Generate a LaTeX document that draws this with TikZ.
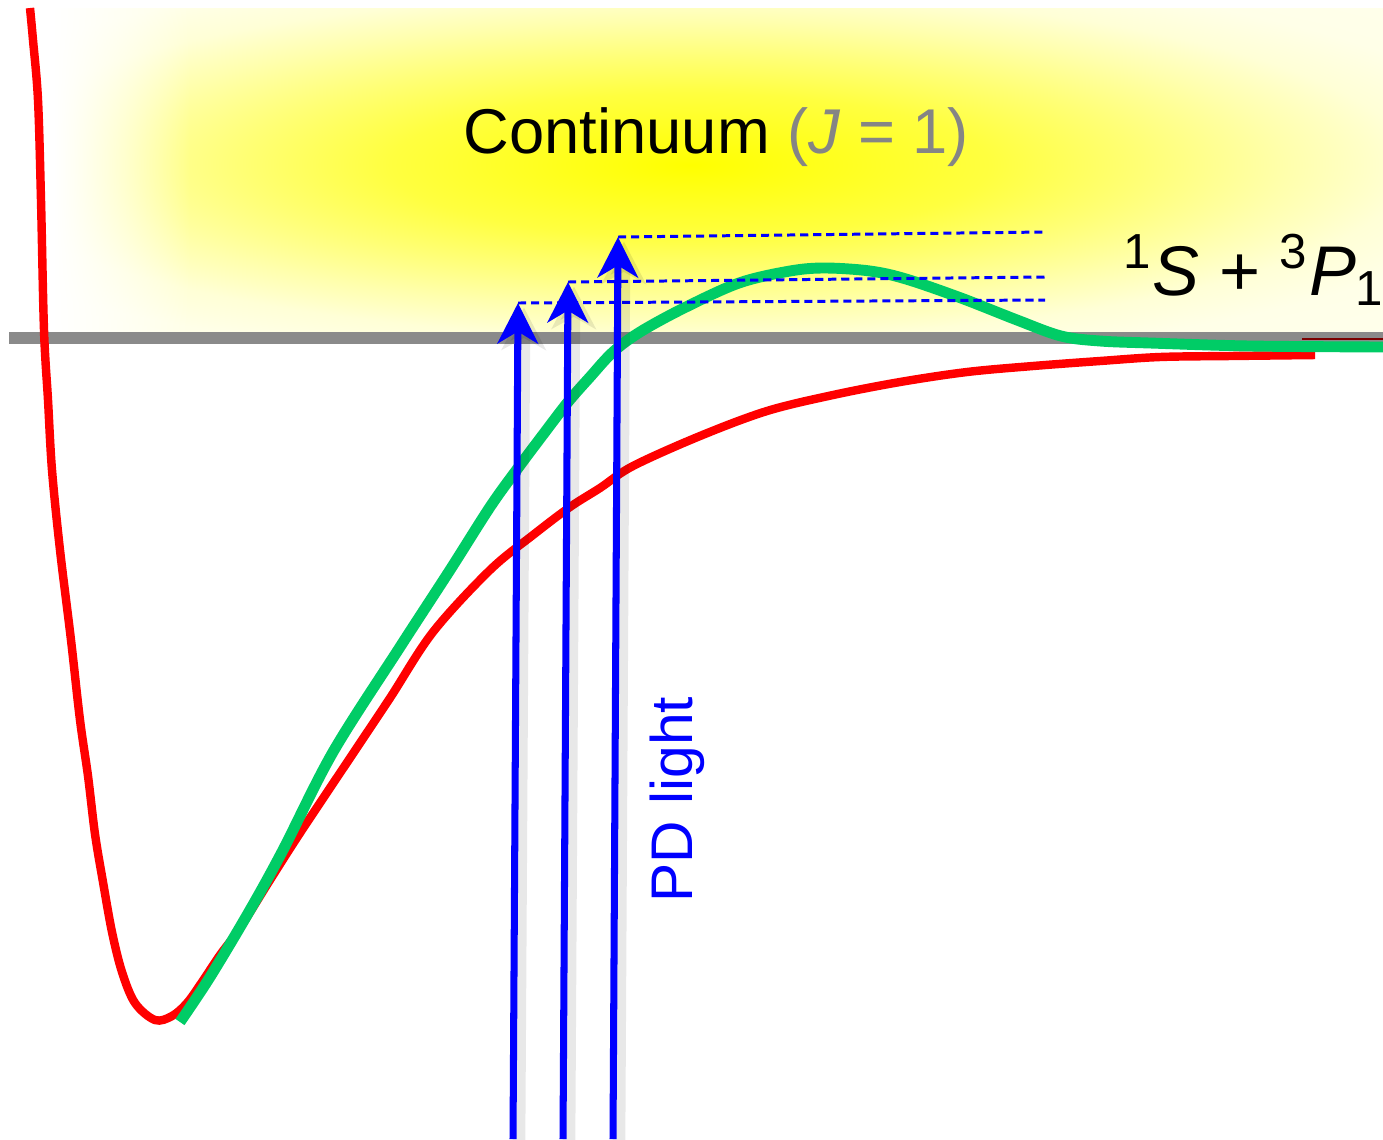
\documentclass[tikz,border=0pt]{standalone}
\usepackage{fontspec}
\setmainfont{Liberation Sans}
\usepackage{xcolor}
\usepackage{tikz}
\usetikzlibrary{arrows.meta,positioning,calc,fadings}
\definecolor{pdBlue}{HTML}{0000FF}
\definecolor{pdRed}{HTML}{FF0000}
\definecolor{pdDarkRed}{HTML}{7A0000}
\definecolor{pdGreen}{HTML}{00CC66}
\definecolor{pdGray}{HTML}{8A8A8A}
\definecolor{pdText}{HTML}{858585}
\pgfdeclareradialshading{contglow}{\pgfpoint{0bp}{0bp}}{%
  color(0bp)=(yellow); color(5bp)=(yellow!75); color(7.5bp)=(yellow!54);
  color(10bp)=(yellow!32); color(12bp)=(yellow!16); color(14bp)=(yellow!9);
  color(25bp)=(yellow!4); color(50bp)=(yellow!3)}
\tikzfading[name=glowedge, left color=transparent!0, right color=transparent!100]
\tikzset{
  potcurve/.style={draw=pdRed, line width=2.4pt, line join=round},
  wavecurve/.style={draw=pdGreen, line width=3.1pt, line join=round},
  threshold/.style={draw=pdGray, line width=3.4pt},
  pdbeam/.style={draw=pdBlue, line width=2pt,
        -{Stealth[length=11.5pt, width=11.5pt, inset=3.4pt]}},
  beamshade/.style={draw=black, opacity=0.09, line width=3.6pt,
        -{Stealth[length=12pt, width=12.5pt, inset=3.4pt]},
        transform canvas={xshift=1.7pt, yshift=-1.3pt}},
  level/.style={draw=pdBlue, line width=0.85pt, dash pattern=on 2.3pt off 1.4pt},
  lbl/.style={inner sep=0pt, text=black}
}

\begin{document}
\begin{tikzpicture}[x=0.01cm, y=-0.01cm]
\useasboundingbox (0,0) rectangle (1383,1139);

% continuum glow
\begin{scope}
\clip (55,8) rectangle (1383,336);
\shade[shading=contglow] (690,165) ellipse (1500 and 360);
\fill[white, path fading=glowedge] (55,0) rectangle (190,340);
\end{scope}

% dissociation threshold
\coordinate (thl) at (9,338);
\coordinate (thr) at (1383,338);
\draw[threshold] (thl) -- (thr);

% ground potential
\draw[potcurve] plot[smooth, tension=0.55] coordinates {
  (30,8) (33,40) (38,100) (41,200) (44,330) (48,400) (52,470) (60,550)
  (71,640) (80,720) (88,776) (95,834) (103,882) (112,932) (122,972)
  (135,1003) (155,1020) (172,1016) (187,1003) (202,982) (220,955)
  (240,928) (270,880) (300,833) (350,758) (390,698) (433,632) (490,570)
  (533,535) (570,507) (600,488) (633,466) (700,436) (767,411) (833,395)
  (900,382) (967,372) (1033,366) (1100,361) (1160,357) (1230,356) (1315,355)};
\coordinate (dr1) at (1302,339);
\coordinate (dr2) at (1383,339);

% scattering wave function
\draw[wavecurve] plot[smooth, tension=0.55] coordinates {
  (180,1022) (210,977) (250,910) (283,850) (333,752) (400,647) (450,570)
  (490,507) (518,468) (545,432) (568,402) (590,377) (613,352) (640,332)
  (684,308) (739,283) (790,271) (825,268) (870,271) (906,279) (961,298)
  (1017,320) (1061,336) (1100,341) (1150,343) (1250,346) (1383,347)};
\draw[draw=pdDarkRed, line width=0.7pt] (dr1) -- (dr2);

% PD light
\coordinate (b1) at (513,1139);  \coordinate (t1) at (518,303);
\coordinate (b2) at (563,1139);  \coordinate (t2) at (568,282);
\coordinate (b3) at (613,1139);  \coordinate (t3) at (618,237);
\coordinate (e1) at (1045,300);
\coordinate (e2) at (1045,277);
\coordinate (e3) at (1045,232);
\draw[level] (t1) -- (e1);
\draw[level] (t2) -- (e2);
\draw[level] (t3) -- (e3);
\foreach \i in {1,2,3} {
  \draw[beamshade] (b\i) -- (t\i);
  \draw[pdbeam] (b\i) -- (t\i);
}

% labels
\node[lbl, anchor=base west, font=\fontsize{18}{20}\selectfont] (cont) at (463,153)
  {Continuum \textcolor{pdText}{(\textit{J} = 1)}};
\node[lbl, anchor=base west, font=\fontsize{20}{22}\selectfont] (asym) at (1123,295)
  {\textsuperscript{1}\textit{S} + \textsuperscript{3}\textit{P}\textsubscript{1}};
\node[lbl, anchor=base west, rotate=90, text=pdBlue, font=\fontsize{16.7}{18}\selectfont]
  (pdl) at (692,903) {PD light};
\end{tikzpicture}
\end{document}
